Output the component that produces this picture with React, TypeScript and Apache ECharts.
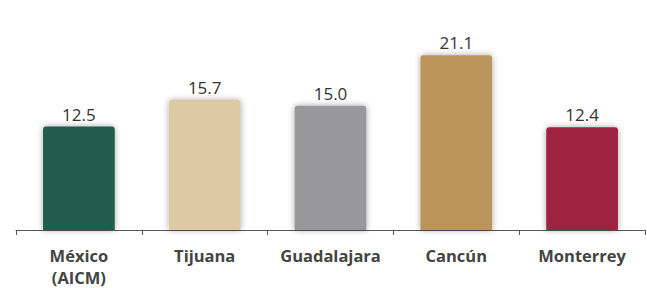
import React, { useEffect, useRef } from "react";
import * as echarts from "echarts";

const categories = ["México\n(AICM)", "Tijuana", "Guadalajara", "Cancún", "Monterrey"];
const values = [12.5, 15.7, 15.0, 21.1, 12.4];
const colors = ["#235B4E", "#DDC9A3", "#98989A", "#BC955C", "#9F2241"];

export default function App() {
  const ref = useRef<HTMLDivElement>(null);
  useEffect(() => {
    if (!ref.current) return;
    const chart = echarts.init(ref.current, null, { renderer: "svg" });
    chart.setOption({
      animation: false,
      grid: { left: 16, right: 2, top: 23, bottom: 57, containLabel: false },
      xAxis: {
        type: "category",
        data: categories,
        axisLine: { lineStyle: { color: "#555", width: 1 } },
        axisTick: { show: true, interval: 0, length: 5, lineStyle: { color: "#555" } },
        axisLabel: {
          interval: 0,
          color: "#444",
          fontFamily: "Open Sans",
          fontWeight: "bold",
          fontSize: 16.5,
          lineHeight: 22,
          margin: 14,
        },
      },
      yAxis: {
        type: "value",
        min: 0,
        max: 25,
        show: false,
        splitLine: { show: false },
      },
      series: [
        {
          type: "bar",
          barWidth: "57%",
          data: values.map((v, i) => ({
            value: v,
            itemStyle: {
              color: colors[i],
              borderRadius: [3, 3, 0, 0],
              shadowBlur: 6,
              shadowColor: "rgba(0,0,0,0.35)",
            },
          })),
          label: {
            show: true,
            position: "top",
            distance: 4,
            color: "#333",
            fontFamily: "Open Sans",
            fontSize: 17,
            formatter: (p: any) => p.value.toFixed(1),
          },
        },
      ],
    });
    return () => chart.dispose();
  }, []);
  return (
    <div
      ref={ref}
      style={{ position: "absolute", left: 0, top: 0, width: 647, height: 288 }}
    />
  );
}
